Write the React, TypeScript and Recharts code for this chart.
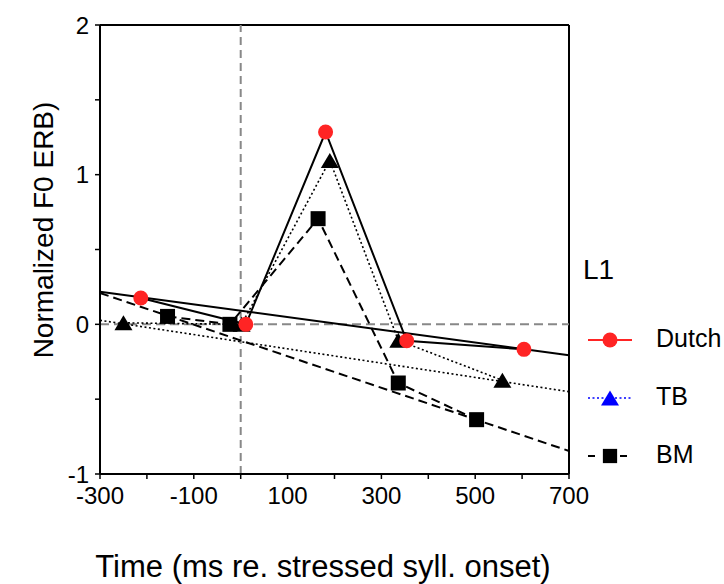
import React from 'react';
import {
  ComposedChart,
  Scatter,
  XAxis,
  YAxis,
  ReferenceLine,
  Label,
} from 'recharts';

// mean F0 per group, time in ms relative to stressed syllable onset
const dutchPoints = [
  { t: -213, f0: 0.176 },
  { t: 11, f0: 0.0 },
  { t: 181, f0: 1.285 },
  { t: 354, f0: -0.11 },
  { t: 604, f0: -0.167 },
];
const tbPoints = [
  { t: -250, f0: 0.01 },
  { t: 2, f0: 0.0 },
  { t: 190, f0: 1.095 },
  { t: 336, f0: -0.107 },
  { t: 558, f0: -0.374 },
];
const bmPoints = [
  { t: -156, f0: 0.053 },
  { t: -23, f0: 0.0 },
  { t: 165, f0: 0.706 },
  { t: 336, f0: -0.392 },
  { t: 503, f0: -0.637 },
];

// linear fits, given by their values at the domain ends
const dutchFit = [
  { t: -300, f0: 0.218 },
  { t: 700, f0: -0.207 },
];
const tbFit = [
  { t: -300, f0: 0.027 },
  { t: 700, f0: -0.45 },
];
const bmFit = [
  { t: -300, f0: 0.209 },
  { t: 700, f0: -0.846 },
];

const xTicks = [-300, -200, -100, 0, 100, 200, 300, 400, 500, 600, 700];
const xLabelled = [-300, -100, 100, 300, 500, 700];
const yTicks = [-1, -0.5, 0, 0.5, 1, 1.5, 2];

const FONT = '"Liberation Sans", Arial, Helvetica, sans-serif';

type Marker = 'circle' | 'triangle' | 'square';

const drawMarker = (kind: Marker, cx: number, cy: number, fill: string, s = 1) => {
  if (kind === 'circle') return <circle cx={cx} cy={cy} r={7.5 * s} fill={fill} />;
  if (kind === 'triangle') {
    const w = 9 * s;
    const h = 7.5 * s;
    return <polygon points={`${cx - w},${cy + h} ${cx + w},${cy + h} ${cx},${cy - h}`} fill={fill} />;
  }
  const a = 7.5 * s;
  return <rect x={cx - a} y={cy - a} width={a * 2} height={a * 2} fill={fill} />;
};

const series = [
  { name: 'Dutch', data: dutchPoints, fit: dutchFit, marker: 'circle' as Marker, markerColor: '#ff2424', keyColor: '#ff2424', dash: undefined, width: 2 },
  { name: 'TB', data: tbPoints, fit: tbFit, marker: 'triangle' as Marker, markerColor: '#000', keyColor: '#0000ff', dash: '2 2.5', width: 1.6 },
  { name: 'BM', data: bmPoints, fit: bmFit, marker: 'square' as Marker, markerColor: '#000', keyColor: '#000', dash: '9 5', width: 2 },
];

// key drawn beside the plot, to the right of the frame
const LegendBox = () => (
  <svg width={146} height={240} style={{ display: 'block', overflow: 'visible' }}>
    <text x={5} y={39} fontSize={28} fontFamily={FONT} fill="#000">
      L1
    </text>
    {series.map((s, i) => {
      const y = 100 + i * 58;
      return (
        <g key={s.name}>
          <line x1={10} x2={54} y1={y} y2={y} stroke={s.keyColor} strokeWidth={s.marker === 'triangle' ? 1.5 : 2} strokeDasharray={s.marker === 'square' ? '7 9' : s.dash} />
          {drawMarker(s.marker, 32, y, s.keyColor, s.marker === 'square' ? 0.95 : 1)}
          <text x={78} y={y + 7} fontSize={25} fontFamily={FONT} fill="#000">
            {s.name}
          </text>
        </g>
      );
    })}
  </svg>
);

export default function App() {
  return (
    <div style={{ position: 'absolute', left: 0, top: 0, width: 724, height: 584 }}>
      <ComposedChart width={724} height={584} margin={{ top: 25, right: 155, left: 40, bottom: 70 }}>
        <XAxis
          type="number"
          dataKey="t"
          domain={[-300, 700]}
          ticks={xTicks}
          allowDataOverflow
          tickFormatter={(v: number) => (xLabelled.includes(v) ? String(v) : '')}
          tick={{ fill: '#000', fontSize: 24, fontFamily: FONT }}
          tickSize={5}
          tickMargin={8}
          height={40}
          axisLine={{ stroke: '#000', strokeWidth: 2 }}
          tickLine={{ stroke: '#000', strokeWidth: 1.5 }}
        >
          <Label
            content={() => (
              <text x={323} y={577} textAnchor="middle" fontSize={31} fontFamily={FONT} fill="#000">
                Time (ms re. stressed syll. onset)
              </text>
            )}
          />
        </XAxis>
        <YAxis
          type="number"
          dataKey="f0"
          domain={[-1, 2]}
          ticks={yTicks}
          allowDataOverflow
          tickFormatter={(v: number) => (Number.isInteger(v) ? String(v) : '')}
          tick={{ fill: '#000', fontSize: 24, fontFamily: FONT }}
          tickSize={5}
          tickMargin={6}
          width={60}
          axisLine={{ stroke: '#000', strokeWidth: 2 }}
          tickLine={{ stroke: '#000', strokeWidth: 1.5 }}
        >
          <Label
            content={() => (
              <text
                x={53}
                y={230}
                transform="rotate(-90 53 230)"
                textAnchor="middle"
                fontSize={28}
                fontFamily={FONT}
                fill="#000"
              >
                Normalized F0 ERB)
              </text>
            )}
          />
        </YAxis>

        {/* frame and zero references */}
        <ReferenceLine y={2} stroke="#000" strokeWidth={2} />
        <ReferenceLine x={700} stroke="#000" strokeWidth={2} />
        <ReferenceLine y={0} stroke="#888" strokeWidth={2} strokeDasharray="9 5" />
        <ReferenceLine x={0} stroke="#888" strokeWidth={2} strokeDasharray="8 5" />

        {series.map((s) => (
          <ReferenceLine
            key={`${s.name}-fit`}
            segment={[
              { x: s.fit[0].t, y: s.fit[0].f0 },
              { x: s.fit[1].t, y: s.fit[1].f0 },
            ]}
            stroke="#000"
            strokeWidth={s.width}
            strokeDasharray={s.dash}
          />
        ))}

        {[...series].reverse().map((s) => (
          <Scatter
            key={s.name}
            name={s.name}
            data={s.data}
            isAnimationActive={false}
            line={{ stroke: '#000', strokeWidth: s.width, strokeDasharray: s.dash }}
            shape={(p: any) => drawMarker(s.marker, p.cx, p.cy, s.markerColor)}
          />
        ))}
      </ComposedChart>
      <div style={{ position: 'absolute', left: 578, top: 240 }}>
        <LegendBox />
      </div>
    </div>
  );
}
